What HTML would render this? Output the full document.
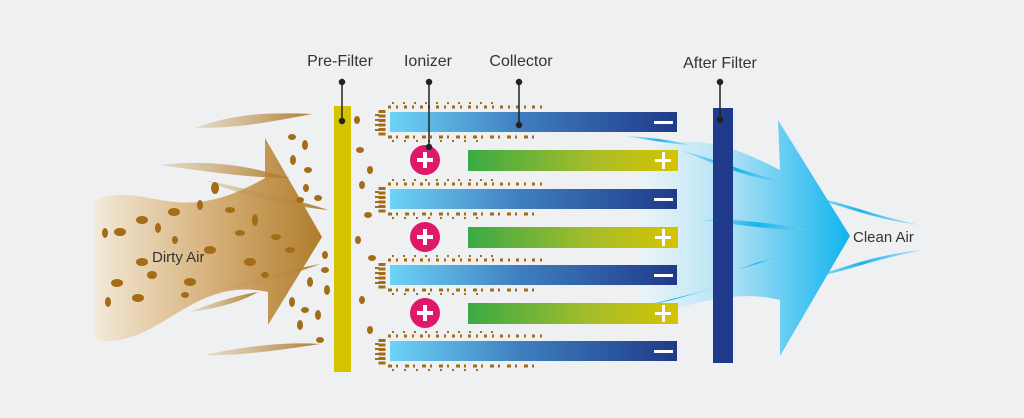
<!DOCTYPE html>
<html><head><meta charset="utf-8"><style>
html,body{margin:0;padding:0;background:#eff0f2;}
svg{display:block}
text{font-family:"Liberation Sans",sans-serif;fill:#333;}
</style></head><body>
<svg width="1024" height="418" viewBox="0 0 1024 418" xmlns="http://www.w3.org/2000/svg">
<defs>
<linearGradient id="dirty" x1="0" x2="1" y1="0" y2="0">
<stop offset="0" stop-color="#f3e9d8"/><stop offset="0.5" stop-color="#d7b27c"/><stop offset="1" stop-color="#b07d2c"/></linearGradient>
<linearGradient id="clean" x1="0" x2="1" y1="0" y2="0">
<stop offset="0" stop-color="#e6f5fb" stop-opacity="0.6"/><stop offset="0.45" stop-color="#a9dff5"/><stop offset="1" stop-color="#10b4ee"/></linearGradient>
<linearGradient id="neg" x1="0" x2="1" y1="0" y2="0">
<stop offset="0" stop-color="#6dd3f7"/><stop offset="0.45" stop-color="#3f7fbf"/><stop offset="1" stop-color="#1f3a8a"/></linearGradient>
<linearGradient id="pos" x1="0" x2="1" y1="0" y2="0">
<stop offset="0" stop-color="#3aaa45"/><stop offset="0.6" stop-color="#a8bd2a"/><stop offset="1" stop-color="#d6c300"/></linearGradient>
<linearGradient id="streak" x1="0" x2="1"><stop offset="0" stop-color="#c9a46a" stop-opacity="0.3"/><stop offset="1" stop-color="#b07d2c"/></linearGradient>
<linearGradient id="bstreak" x1="0" x2="1"><stop offset="0" stop-color="#4cc6f2" stop-opacity="0.3"/><stop offset="0.5" stop-color="#19b2ec"/><stop offset="1" stop-color="#6fd0f5" stop-opacity="0.5"/></linearGradient>
</defs>
<rect width="1024" height="418" fill="#eff0f2"/>

<!-- dirty air -->
<path d="M95,200 C150,180 175,230 265,178 L265,138 L322,237 L268,325 L268,292 C190,275 160,350 95,340 Z" fill="url(#dirty)"/>
<path d="M195,128 C230,115 260,112 312,114 C270,122 240,128 195,128Z" fill="url(#streak)"/>
<path d="M160,165 C220,158 260,170 290,178 C250,178 210,172 160,165Z" fill="url(#streak)"/>
<path d="M205,180 C250,190 300,200 328,210 C280,205 240,195 205,180Z" fill="url(#streak)"/>
<path d="M220,290 C260,275 300,268 320,264 C290,275 260,285 220,290Z" fill="url(#streak)"/>
<path d="M190,312 C220,300 240,295 258,292 C240,302 220,308 190,312Z" fill="url(#streak)"/>
<path d="M205,355 C250,345 290,342 320,344 C280,350 240,356 205,355Z" fill="url(#streak)"/>
<g fill="#a26d16">
<ellipse cx="105" cy="233" rx="3" ry="5"/><ellipse cx="120" cy="232" rx="6" ry="4"/><ellipse cx="142" cy="220" rx="6" ry="4"/><ellipse cx="174" cy="212" rx="6" ry="4"/><ellipse cx="200" cy="205" rx="3" ry="5"/>
<ellipse cx="210" cy="250" rx="6" ry="4"/><ellipse cx="240" cy="233" rx="5" ry="3"/><ellipse cx="230" cy="210" rx="5" ry="3"/><ellipse cx="255" cy="220" rx="3" ry="6"/><ellipse cx="276" cy="237" rx="5" ry="3"/>
<ellipse cx="142" cy="262" rx="6" ry="4"/><ellipse cx="152" cy="275" rx="5" ry="4"/><ellipse cx="117" cy="283" rx="6" ry="4"/><ellipse cx="108" cy="302" rx="3" ry="5"/><ellipse cx="138" cy="298" rx="6" ry="4"/>
<ellipse cx="158" cy="228" rx="3" ry="5"/><ellipse cx="190" cy="282" rx="6" ry="4"/><ellipse cx="175" cy="240" rx="3" ry="4"/><ellipse cx="250" cy="262" rx="6" ry="4"/><ellipse cx="290" cy="250" rx="5" ry="3"/>
<ellipse cx="215" cy="188" rx="4" ry="6"/><ellipse cx="300" cy="200" rx="4" ry="3"/><ellipse cx="265" cy="275" rx="4" ry="3"/><ellipse cx="185" cy="295" rx="4" ry="3"/>
<ellipse cx="292" cy="137" rx="4" ry="3"/><ellipse cx="305" cy="145" rx="3" ry="5"/><ellipse cx="293" cy="160" rx="3" ry="5"/><ellipse cx="308" cy="170" rx="4" ry="3"/><ellipse cx="306" cy="188" rx="3" ry="4"/><ellipse cx="318" cy="198" rx="4" ry="3"/>
<ellipse cx="325" cy="255" rx="3" ry="4"/><ellipse cx="325" cy="270" rx="4" ry="3"/><ellipse cx="310" cy="282" rx="3" ry="5"/><ellipse cx="327" cy="290" rx="3" ry="5"/><ellipse cx="292" cy="302" rx="3" ry="5"/><ellipse cx="305" cy="310" rx="4" ry="3"/><ellipse cx="318" cy="315" rx="3" ry="5"/><ellipse cx="300" cy="325" rx="3" ry="5"/><ellipse cx="320" cy="340" rx="4" ry="3"/>
<ellipse cx="357" cy="120" rx="3" ry="4"/><ellipse cx="360" cy="150" rx="4" ry="3"/><ellipse cx="370" cy="170" rx="3" ry="4"/><ellipse cx="362" cy="185" rx="3" ry="4"/><ellipse cx="368" cy="215" rx="4" ry="3"/><ellipse cx="358" cy="240" rx="3" ry="4"/><ellipse cx="372" cy="258" rx="4" ry="3"/><ellipse cx="362" cy="300" rx="3" ry="4"/><ellipse cx="370" cy="330" rx="3" ry="4"/>
</g>
<!-- particle clusters at negative plate ends -->
<g stroke="#a26d16" fill="none">
<g id="cl">
<line x1="382" y1="110" x2="382" y2="136" stroke-width="7" stroke-dasharray="3 1.5"/>
<line x1="377" y1="114" x2="377" y2="132" stroke-width="4" stroke-dasharray="2 3"/>
<line x1="388" y1="107" x2="545" y2="107" stroke-width="3" stroke-dasharray="3 5 2 6"/>
<line x1="392" y1="103" x2="500" y2="103" stroke-width="2" stroke-dasharray="2 9"/>
<line x1="388" y1="137" x2="535" y2="137" stroke-width="3" stroke-dasharray="4 4 2 7"/>
<line x1="392" y1="141" x2="480" y2="141" stroke-width="2" stroke-dasharray="2 10"/>
</g>
<use href="#cl" y="77"/><use href="#cl" y="153"/><use href="#cl" y="229"/>
</g>

<!-- pre-filter -->
<rect x="334" y="106" width="17" height="266" fill="#d6c300"/>

<!-- clean air -->
<path d="M640,150 C700,130 740,150 780,170 L778,120 L850,236 L780,356 L780,300 C740,290 700,300 640,320 Z" fill="url(#clean)"/>
<path d="M625,136 C660,138 680,142 690,145 C670,144 650,140 625,136Z" fill="url(#bstreak)"/>
<path d="M680,150 C720,160 750,175 790,183 C750,179 720,166 680,150Z" fill="url(#bstreak)"/>
<path d="M800,195 C840,200 870,215 920,225 C870,219 840,204 800,195Z" fill="url(#bstreak)"/>
<path d="M700,220 C740,218 780,225 815,230 C780,231 740,225 700,220Z" fill="url(#bstreak)"/>
<path d="M800,280 C840,270 870,255 923,250 C870,260 840,274 800,280Z" fill="url(#bstreak)"/>
<path d="M735,270 C750,265 770,258 778,257 C765,261 750,267 735,270Z" fill="url(#bstreak)"/>
<path d="M636,307 C670,300 700,292 715,287 C690,296 660,304 636,307Z" fill="url(#bstreak)"/>

<!-- plates -->
<g>
<rect x="390" y="112" width="287" height="20" fill="url(#neg)"/>
<rect x="390" y="189" width="287" height="20" fill="url(#neg)"/>
<rect x="390" y="265" width="287" height="20" fill="url(#neg)"/>
<rect x="390" y="341" width="287" height="20" fill="url(#neg)"/>
<rect x="468" y="150" width="210" height="21" fill="url(#pos)"/>
<rect x="468" y="227" width="210" height="21" fill="url(#pos)"/>
<rect x="468" y="303" width="210" height="21" fill="url(#pos)"/>
</g>
<g fill="#fff">
<rect x="654" y="121" width="19" height="3"/><rect x="654" y="198" width="19" height="3"/><rect x="654" y="274" width="19" height="3"/><rect x="654" y="350" width="19" height="3"/>
<rect x="655" y="159" width="16" height="3"/><rect x="662" y="152" width="3" height="17"/>
<rect x="655" y="236" width="16" height="3"/><rect x="662" y="229" width="3" height="17"/>
<rect x="655" y="312" width="16" height="3"/><rect x="662" y="305" width="3" height="17"/>
</g>

<!-- ionizers -->
<g>
<circle cx="425" cy="160" r="15" fill="#e0186a"/><circle cx="425" cy="237" r="15" fill="#e0186a"/><circle cx="425" cy="313" r="15" fill="#e0186a"/>
<g fill="#fff"><rect x="417" y="158" width="16" height="4"/><rect x="423" y="152" width="4" height="16"/>
<rect x="417" y="235" width="16" height="4"/><rect x="423" y="229" width="4" height="16"/>
<rect x="417" y="311" width="16" height="4"/><rect x="423" y="305" width="4" height="16"/></g>
</g>

<!-- after filter -->
<rect x="713" y="108" width="20" height="255" fill="#1f3a8a"/>

<!-- leaders -->
<g stroke="#222" stroke-width="1.5" fill="#222">
<line x1="342" y1="82" x2="342" y2="121"/><circle cx="342" cy="82" r="2.5"/><circle cx="342" cy="121" r="2.5"/>
<line x1="429" y1="82" x2="429" y2="147"/><circle cx="429" cy="82" r="2.5"/><circle cx="429" cy="147" r="2.5"/>
<line x1="519" y1="82" x2="519" y2="125"/><circle cx="519" cy="82" r="2.5"/><circle cx="519" cy="125" r="2.5"/>
<line x1="720" y1="82" x2="720" y2="120"/><circle cx="720" cy="82" r="2.5"/><circle cx="720" cy="120" r="2.5"/>
</g>

<text x="340" y="66" font-size="16" text-anchor="middle">Pre-Filter</text>
<text x="428" y="66" font-size="16" text-anchor="middle">Ionizer</text>
<text x="521" y="66" font-size="16" text-anchor="middle">Collector</text>
<text x="720" y="68" font-size="16" text-anchor="middle">After Filter</text>
<text x="152" y="262" font-size="15">Dirty Air</text>
<text x="853" y="242" font-size="15">Clean Air</text>
</svg>
</body></html>
